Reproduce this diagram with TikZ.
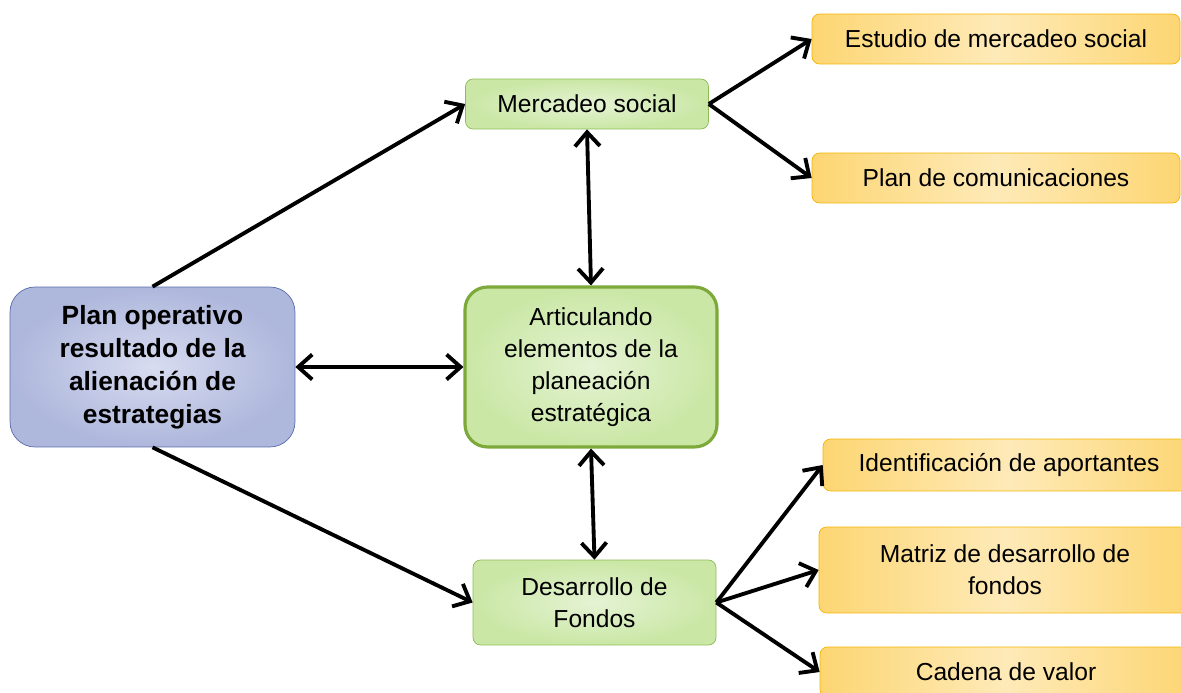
\documentclass[tikz,border=0pt]{standalone}
\usepackage{fontspec}
\setmainfont{Liberation Sans}
\usetikzlibrary{arrows.meta, positioning}

\definecolor{planin}{HTML}{D8DCF0}
\definecolor{planout}{HTML}{AEB7DC}
\definecolor{planline}{HTML}{5A6BAA}
\definecolor{greenin}{HTML}{E5F3D4}
\definecolor{greenout}{HTML}{CAE7A5}
\definecolor{greenline}{HTML}{8CBB55}
\definecolor{artline}{HTML}{7DA83A}
\definecolor{orangeside}{HTML}{FDD673}
\definecolor{orangemid}{HTML}{FEEAB8}
\definecolor{orangeline}{HTML}{F4B400}

\begin{document}
\begin{tikzpicture}[
            x=0.02cm, y=-0.02cm,
            font=\fontsize{14pt}{18.2pt}\selectfont,
            main/.style={rectangle, draw=planline, inner color=planin, outer color=planout, rounded corners=0.5cm, minimum width=5.7cm, minimum height=3.2cm, align=center, font=\fontsize{15pt}{18.8pt}\selectfont\bfseries},
            core/.style={rectangle, draw=artline, line width=1.8pt, inner color=greenin, outer color=greenout, rounded corners=0.45cm, minimum width=5.04cm, minimum height=3.2cm, align=center},
            area/.style={rectangle, draw=greenline, inner color=greenin, outer color=greenout, rounded corners=0.15cm, minimum width=4.86cm, align=center},
            task/.style={rectangle, draw=orangeline, left color=orangeside, right color=orangeside, middle color=orangemid, rounded corners=0.15cm, align=center},
            arrow/.style={-{Straight Barb[length=2.8mm, width=5mm]}, line width=2.2pt},
            both/.style={{Straight Barb[length=2.8mm, width=5mm]}-{Straight Barb[length=2.8mm, width=5mm]}, line width=2.2pt}
        ]
            \clip (0,0) rectangle (1181,693);

            \node[main] (plan) at (152.5,367) {Plan operativo\\resultado de la\\alienación de\\estrategias};
            \node[core] (artic) at (591,367) {Articulando\\elementos de la\\planeación\\estratégica};
            \node[area, minimum height=1cm] (merc) at (587,104) {Mercadeo social};
            \node[area, minimum height=1.7cm] (desa) at (594.5,602.5) {Desarrollo de\\Fondos};

            \node[task, minimum width=7.36cm, minimum height=1cm] (estudio) at (996,39) {Estudio de mercadeo social};
            \node[task, minimum width=7.36cm, minimum height=1cm] (comunic) at (996,178) {Plan de comunicaciones};
            \node[task, minimum width=7.44cm, minimum height=1.04cm] (aport) at (1009,465) {Identificación de aportantes};
            \node[task, minimum width=7.44cm, minimum height=1.72cm] (matriz) at (1005,570) {Matriz de desarrollo de\\fondos};
            \node[task, minimum width=7.44cm, minimum height=1cm] (cadena) at (1006,672) {Cadena de valor};

            \draw[arrow] (plan.north) -- (merc.west);
            \draw[arrow] (plan.south) -- (desa.west);
            \draw[both] (plan.east) -- (artic.west);
            \draw[both] (merc.south) -- (artic.north);
            \draw[both] (artic.south) -- (desa.north);

            \draw[arrow] (merc.east) -- (estudio.west);
            \draw[arrow] (merc.east) -- (comunic.west);
            \draw[arrow] (desa.east) -- (aport.west);
            \draw[arrow] (desa.east) -- (matriz.west);
            \draw[arrow] (desa.east) -- (cadena.west);
        \end{tikzpicture}
\end{document}
